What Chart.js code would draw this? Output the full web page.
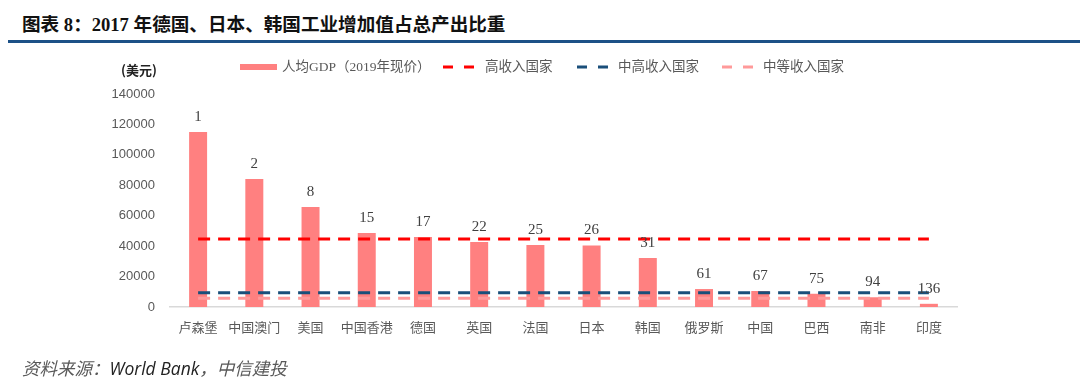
<!DOCTYPE html>
<html>
<head>
<meta charset="utf-8">
<script src="https://cdn.jsdelivr.net/npm/chart.js@4"></script>
<style>
    html, body { margin: 0; padding: 0; background: #fff; }
    body { width: 1080px; height: 383px; position: relative; overflow: hidden; }
    #title {
        position: absolute; left: 22px; top: 9px;
        font: bold 18.6px "Liberation Serif", "Noto Sans CJK SC", serif;
        color: #111; white-space: nowrap;
    }
    #rule { position: absolute; left: 8px; right: 0; top: 40px; height: 3px; background: #1c5187; }
    #source {
        position: absolute; left: 22px; top: 355px;
        font: italic 17.5px "Open Sans", "Noto Sans CJK SC", sans-serif;
        color: #595959; white-space: nowrap;
    }
    #source b { font-weight: normal; color: #222; }
    #wrap { position: absolute; left: 0; top: 0; width: 1080px; height: 383px; }
</style>
</head>
<body>
<div id="title">图表 8：2017 年德国、日本、韩国工业增加值占总产出比重</div>
<div id="rule"></div>
<div id="wrap"><canvas id="chart"></canvas></div>
<div id="source">资料来源：<b>World Bank</b>，中信建投</div>
<script>
// 2017 per-capita GDP (current USD, 2019 prices) and world rank
const countries = ['卢森堡', '中国澳门', '美国', '中国香港', '德国', '英国', '法国', '日本', '韩国', '俄罗斯', '中国', '巴西', '南非', '印度'];
const gdpPerCapita = [115000, 84100, 65700, 48600, 46000, 42700, 40800, 40400, 32200, 11800, 10500, 8700, 6400, 2100];
const ranks = ['1', '2', '8', '15', '17', '22', '25', '26', '31', '61', '67', '75', '94', '136'];

// income group thresholds (USD)
const highIncome = [44700, 44700, 44700, 44700, 44700, 44700, 44700, 44700, 44700, 44700, 44700, 44700, 44700, 44700];
const upperMiddle = [9400, 9400, 9400, 9400, 9400, 9400, 9400, 9400, 9400, 9400, 9400, 9400, 9400, 9400];
const middleIncome = [5700, 5700, 5700, 5700, 5700, 5700, 5700, 5700, 5700, 5700, 5700, 5700, 5700, 5700];

const yTicks = [0, 20000, 40000, 60000, 80000, 100000, 120000, 140000];

const seriesNames = ['人均GDP（2019年现价）', '高收入国家', '中高收入国家', '中等收入国家'];

const BAR = '#ff8080';
const RED = '#ff0000';
const BLUE = '#1a4f7a';
const PINK = '#ff9a9a';
const TEXT = '#595959';

// rank labels above bars
const rankLabels = {
    id: 'rankLabels',
    afterDatasetsDraw(chart) {
        const { ctx } = chart;
        const meta = chart.getDatasetMeta(0);
        ctx.save();
        ctx.font = '15px "Liberation Serif", serif';
        ctx.fillStyle = '#404040';
        ctx.textAlign = 'center';
        ctx.textBaseline = 'middle';
        meta.data.forEach((bar, i) => {
            ctx.fillText(ranks[i], bar.x, bar.y - 15);
        });
        ctx.restore();
    }
};

// unit + legend drawn on top of the plot
const topLegend = {
    id: 'topLegend',
    afterDraw(chart) {
        const { ctx } = chart;
        ctx.save();
        ctx.fillStyle = '#222';
        ctx.font = 'bold 13px "Noto Sans CJK SC", sans-serif';
        ctx.textBaseline = 'middle';
        ctx.fillText('(美元)', 121, 70);

        const y = 67;
        ctx.fillStyle = BAR;
        ctx.fillRect(240, y - 3, 37, 6);

        const dash = (x, color) => {
            ctx.strokeStyle = color;
            ctx.lineWidth = 3;
            ctx.setLineDash([10, 11]);
            ctx.beginPath();
            ctx.moveTo(x, y);
            ctx.lineTo(x + 31, y);
            ctx.stroke();
        };
        dash(443, RED);
        dash(577, BLUE);
        dash(722, PINK);

        ctx.fillStyle = TEXT;
        ctx.font = '13.5px "Liberation Serif", "Noto Sans CJK SC", serif';
        ctx.fillText(seriesNames[0], 282, y);
        ctx.fillText(seriesNames[1], 485, y);
        ctx.fillText(seriesNames[2], 618, y);
        ctx.fillText(seriesNames[3], 763, y);
        ctx.restore();
    }
};

const lineSet = (label, data, color) => ({
    type: 'line',
    label,
    data,
    borderColor: color,
    backgroundColor: color,
    borderWidth: 3,
    borderDash: [12, 8],
    pointRadius: 0,
    fill: false,
    order: 1
});

new Chart(document.getElementById('chart'), {
    data: {
        labels: countries,
        datasets: [
            {
                type: 'bar',
                label: seriesNames[0],
                data: gdpPerCapita,
                backgroundColor: BAR,
                barPercentage: 0.32,
                categoryPercentage: 1,
                order: 2
            },
            lineSet(seriesNames[1], highIncome, RED),
            lineSet(seriesNames[2], upperMiddle, BLUE),
            lineSet(seriesNames[3], middleIncome, PINK)
        ]
    },
    options: {
        responsive: true,
        maintainAspectRatio: false,
        animation: false,
        layout: { padding: { left: 110, right: 123, top: 94, bottom: 40 } },
        plugins: {
            legend: { display: false },
            tooltip: { enabled: false }
        },
        scales: {
            x: {
                grid: { display: false, drawTicks: false },
                border: { display: true, color: '#d9d9d9', width: 1.5 },
                ticks: {
                    padding: 12,
                    maxRotation: 0,
                    autoSkip: false,
                    color: TEXT,
                    font: { family: '"Noto Sans CJK SC", sans-serif', size: 13 }
                },
                afterFit: s => { s.height = 36; }
            },
            y: {
                min: 0,
                max: 140000,
                grid: { display: false, drawTicks: false },
                border: { display: false },
                afterBuildTicks: s => { s.ticks = yTicks.map(v => ({ value: v })); },
                ticks: {
                    padding: 15,
                    color: TEXT,
                    font: { family: '"Liberation Sans", Arial, sans-serif', size: 13 },
                    callback: v => String(v)
                },
                afterFit: s => { s.width = 60; }
            }
        }
    },
    plugins: [rankLabels, topLegend]
});
</script>
</body>
</html>
